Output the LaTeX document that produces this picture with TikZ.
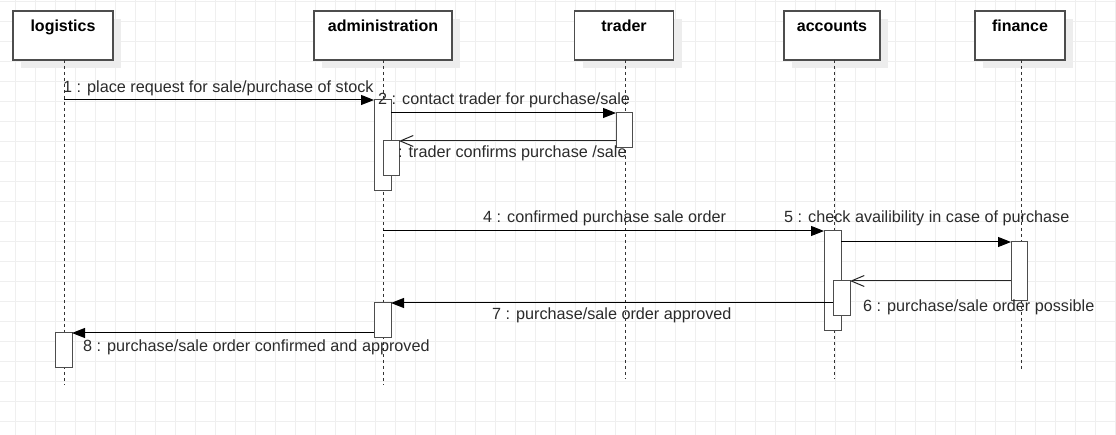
\documentclass[tikz,border=0pt]{standalone}
\usepackage{fontspec}
\setmainfont{Liberation Sans}
\usetikzlibrary{arrows.meta,shadows}
\definecolor{gridc}{HTML}{EFEFEF}
\definecolor{boxc}{HTML}{4D4D4D}
\definecolor{txtc}{HTML}{2B2B2B}
\tikzset{
  actor/.style={draw=boxc, line width=1.2pt, fill=white, inner sep=0pt, outer sep=0pt,
    minimum height=49pt, text depth=0pt,
    drop shadow={shadow xshift=8pt, shadow yshift=-8pt, fill=black!7, opacity=1}},
  ttl/.style={font=\fontsize{16}{19}\selectfont\bfseries, text=black, anchor=base},
  act/.style={draw=boxc, line width=1pt, fill=white, inner sep=0pt, outer sep=0pt, minimum width=17pt},
  lifeline/.style={draw=black!80, line width=1pt, dash pattern=on 3pt off 3pt},
  msg/.style={draw=black, line width=1pt, -{Triangle[length=13pt,width=10pt]}},
  ret/.style={draw=black!85, line width=1pt, -{Straight Barb[length=13pt,width=11pt]}},
  lbl/.style={font=\fontsize{16.2}{19}\selectfont, text=txtc, anchor=base west, inner sep=0pt}
}
\begin{document}
\begin{tikzpicture}[x=1pt,y=-1pt]
\useasboundingbox (0,0) rectangle (1116,435);
\fill[white] (0,0) rectangle (1116,435);
% grid
\foreach \gx in {15,35,...,1115} \draw[gridc, line width=1pt] (\gx,0) -- (\gx,435);
\foreach \gy in {1.7,21.7,...,435} \draw[gridc, line width=1pt] (0,\gy) -- (1116,\gy);

% actor boxes
\node[actor, minimum width=100pt] (log) at (63,35.5) {};
\node[actor, minimum width=138pt] (adm) at (383,35.5) {};
\node[actor, minimum width=99pt] (trd) at (624,35.5) {};
\node[actor, minimum width=96pt] (acc) at (832,35.5) {};
\node[actor, minimum width=90pt] (fin) at (1020,35.5) {};
\node[ttl] (tlog) at (63,31.7) {logistics};
\node[ttl] (tadm) at (383,31.7) {administration};
\node[ttl] (ttrd) at (624,31.7) {trader};
\node[ttl] (tacc) at (832,31.7) {accounts};
\node[ttl] (tfin) at (1020,31.7) {finance};

% lifelines
\coordinate (elog) at (64,385);
\coordinate (eadm) at (383,385);
\coordinate (etrd) at (625,379);
\coordinate (eacc) at (834,379);
\coordinate (efin) at (1021,370);
\draw[lifeline] (log.south -| elog) -- (elog);
\draw[lifeline] (adm.south -| eadm) -- (eadm);
\draw[lifeline] (trd.south -| etrd) -- (etrd);
\draw[lifeline] (acc.south -| eacc) -- (eacc);
\draw[lifeline] (fin.south -| efin) -- (efin);

% activations
\node[act, minimum height=91pt, anchor=north west] (adm1) at (374,100) {};
\node[act, minimum height=35pt, minimum width=16pt, anchor=north west] (trd1) at (616,113) {};
\node[act, minimum height=35pt, minimum width=16pt, anchor=north west] (adm2) at (383,141) {};
\node[act, minimum height=100pt, anchor=north west] (acc1) at (824,231) {};
\node[act, minimum height=59pt, minimum width=16pt, anchor=north west] (fin1) at (1011,242) {};
\node[act, minimum height=35pt, anchor=north west] (acc2) at (833,281) {};
\node[act, minimum height=35pt, anchor=north west] (adm3) at (374,303) {};
\node[act, minimum height=35pt, anchor=north west] (log1) at (55,333) {};

% message endpoints
\coordinate (m1s) at (64,100);
\coordinate (m4s) at (383,231);

% messages
\draw[msg] (m1s) -- (adm1.north west);
\draw[msg] (adm1.east |- trd1.north) -- (trd1.north west);
\draw[ret] (trd1.west |- adm2.north) -- (adm2.north east);
\draw[msg] (m4s) -- (acc1.north west);
\draw[msg] (acc1.east |- fin1.north) -- (fin1.north west);
\draw[ret] (fin1.west |- acc2.north) -- (acc2.north east);
\draw[msg] (acc2.west |- adm3.north) -- (adm3.north east);
\draw[msg] (adm3.west |- log1.north) -- (log1.north east);

% labels
\node[lbl] (l1) at (63,93) {1 : place request for sale/purchase of stock};
\node[lbl] (l2) at (378,105) {2 : contact trader for purchase/sale};
\node[lbl] (l3) at (398,157.5) {: trader confirms purchase /sale};
\node[lbl] (l4) at (483,222.5) {4 : confirmed purchase sale order};
\node[lbl] (l5) at (784,222.5) {5 : check availibility in case of purchase};
\node[lbl] (l6) at (863,311.5) {6 : purchase/sale order possible};
\node[lbl] (l7) at (492,320) {7 : purchase/sale order approved};
\node[lbl] (l8) at (83,351.5) {8 : purchase/sale order confirmed and approved};
\end{tikzpicture}
\end{document}
